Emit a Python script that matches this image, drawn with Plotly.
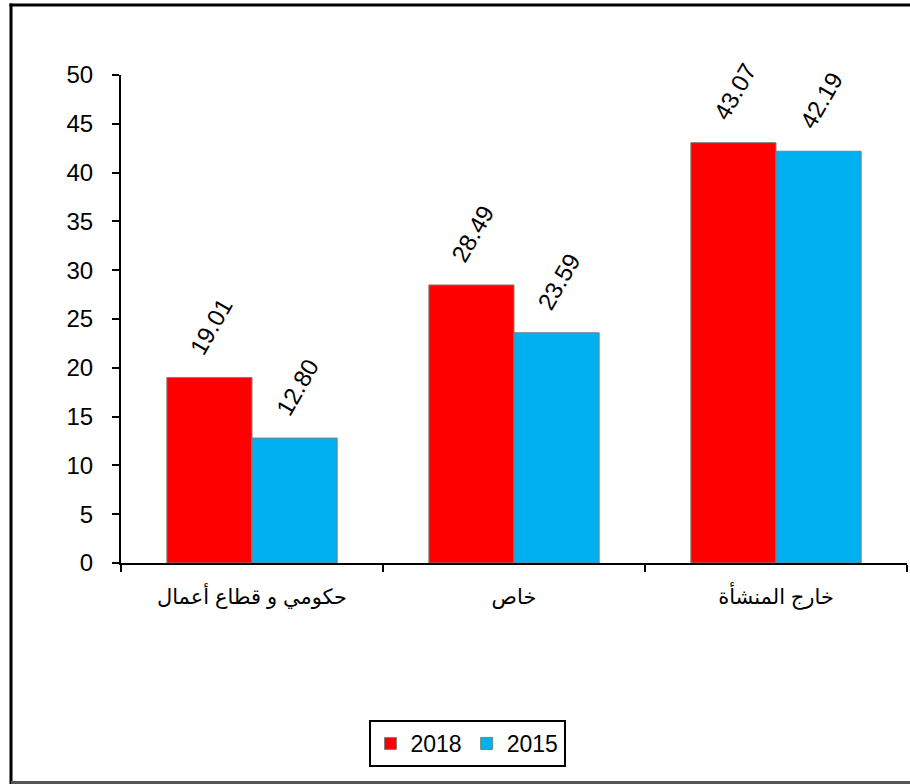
import plotly.graph_objects as go

categories = ["حكومي و قطاع أعمال", "خاص", "خارج المنشأة"]
series_names = ["2018", "2015"]
values_2018 = [19.01, 28.49, 43.07]
values_2015 = [12.80, 23.59, 42.19]
colors = ["#FF0000", "#00B0F0"]
y_ticks = list(range(0, 55, 5))

W, H = 910, 784
L, R, T, B = 121, 3, 75, 221
pw, ph = W - L - R, H - T - B

fig = go.Figure()
for name, vals, col in zip(series_names, [values_2018, values_2015], colors):
    fig.add_trace(go.Bar(
        x=categories, y=vals, name=name,
        marker=dict(color=col, line=dict(color="#7f7f7f", width=1)),
    ))

annotations = []
for k, vals in enumerate([values_2018, values_2015]):
    shift = -41 if k == 0 else 45
    for c, v in zip(categories, vals):
        annotations.append(dict(
            x=c, y=v, xref="x", yref="y", text=f"{v:.2f}", showarrow=False,
            textangle=-60, xshift=shift, yshift=51,
            font=dict(family="Liberation Sans, Arial", size=24, color="black"),
        ))

def px_x(px):
    return (px - L) / pw

def px_y(py):
    return (H - B - py) / ph

# outer frame: top, left and bottom edges
fig.add_shape(type="line", xref="paper", yref="paper",
              x0=px_x(9.5), x1=px_x(912), y0=px_y(5), y1=px_y(5),
              line=dict(color="black", width=3), layer="above")
fig.add_shape(type="line", xref="paper", yref="paper",
              x0=px_x(11), x1=px_x(11), y0=px_y(3.5), y1=px_y(786),
              line=dict(color="black", width=3), layer="above")
fig.add_shape(type="line", xref="paper", yref="paper",
              x0=px_x(11), x1=px_x(912), y0=px_y(782.5), y1=px_y(782.5),
              line=dict(color="#555555", width=3), layer="above")

fig.update_layout(
    width=W, height=H,
    margin=dict(l=L, r=R, t=T, b=B),
    paper_bgcolor="white", plot_bgcolor="white",
    barmode="group", bargap=0.35, bargroupgap=0,
    font=dict(family="Liberation Sans, Arial, DejaVu Sans", size=22, color="black"),
    showlegend=True,
    legend=dict(orientation="h", x=px_x(467), xanchor="center", y=px_y(720), yanchor="top",
                bordercolor="black", borderwidth=2, font=dict(size=23),
                itemwidth=30, traceorder="normal"),
    annotations=annotations,
)
fig.update_xaxes(
    type="category", tickson="boundaries", ticks="outside", ticklen=7, tickwidth=2,
    tickcolor="black", showline=True, linecolor="black", linewidth=2,
    tickfont=dict(family="Liberation Sans, Arial, DejaVu Sans", size=21),
    showgrid=False, zeroline=False, ticklabelstandoff=14,
)
fig.update_yaxes(
    range=[0, 50], tickvals=y_ticks, ticks="outside", ticklen=7, tickwidth=2,
    tickcolor="black", showline=True, linecolor="black", linewidth=2,
    tickfont=dict(family="Liberation Sans, Arial", size=24),
    showgrid=False, zeroline=False, ticklabelstandoff=14,
)

fig.write_html("out.html", config={"displayModeBar": False},
               post_script="document.body.style.margin='0px';document.body.style.overflow='hidden';")
